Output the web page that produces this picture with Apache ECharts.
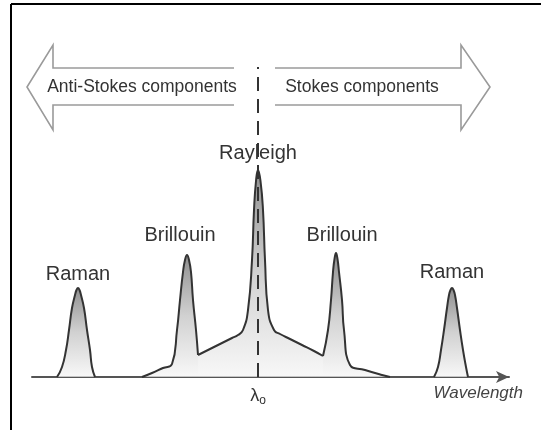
<!DOCTYPE html>
<html>
<head>
<meta charset="utf-8">
<script src="https://cdn.jsdelivr.net/npm/echarts@6/dist/echarts.min.js"></script>
<style>
  html, body { margin: 0; padding: 0; background: #fff; }
  #scatterChart { width: 541px; height: 430px; }
</style>
</head>
<body>
<div id="scatterChart"></div>
<script>
// segments of the spectrum, [wavelength offset, intensity]
var ramanAntiStokes = [[25,0],[30,10],[34,27],[37,47],[40,69],[43,82],[44.5,87],[46,89],[47.5,87],[49,82],[52,69],[55,47],[58,27],[60,10],[63,0]];
var brillouinAntiStokes = [[110,0],[120,4],[131,9],[140,13],[145,47],[148,77],[151,105],[153,117],[155,122],[157,117],[159,105],[161,77],[164,47],[166,22]];
var rayleigh = [[166,22],[178,28],[190,34],[200,39],[206,42],[211,47],[216,67],[220,117],[222,167],[224,196],[226,207],[228.5,196],[231,167],[233,117],[236,67],[242,47],[248,43],[258,38],[270,32],[282,26],[291,21]];
var brillouinStokes = [[291,21],[296,47],[299,77],[301,105],[302.5,118],[304,124],[305.5,118],[307,105],[310,77],[312,47],[318,12],[333,7],[350,2],[358,0]];
var ramanStokes = [[402,0],[406,10],[409,27],[412,47],[415,69],[417,82],[418.5,87],[420,89],[421.5,87],[423,82],[425,69],[428,47],[431,27],[434,10],[436,0]];

var peakNames = ['Raman', 'Brillouin', 'Rayleigh', 'Brillouin', 'Raman'];
var lambda0 = 226;
var xMax = 477;
var yMax = 310;

var chart = echarts.init(document.getElementById('scatterChart'));
var font = '"Liberation Sans", Arial, sans-serif';

// label tweaks per peak: [distance, x offset]
var labelPos = [[4, 0], [10, -7], [7, 0], [8, 6], [6, 0]];

function makeSeries(points, idx) {
    var peak = 0;
    points.forEach(function (p, i) { if (p[1] > points[peak][1]) peak = i; });
    var data = points.map(function (p, i) {
        if (i !== peak) return { value: p };
        return {
            value: p,
            label: {
                show: true,
                formatter: peakNames[idx],
                position: 'top',
                distance: labelPos[idx][0],
                offset: [labelPos[idx][1], 0],
                fontFamily: font,
                fontSize: 20,
                color: '#333',
                backgroundColor: idx === 2 ? '#fff' : 'transparent',
                padding: [0, 2]
            }
        };
    });
    return {
        type: 'line',
        data: data,
        smooth: 0.5,
        symbol: 'circle',
        symbolSize: 0,
        showSymbol: true,
        lineStyle: { color: '#333', width: 2 },
        itemStyle: { color: 'transparent' },
        areaStyle: {
            color: new echarts.graphic.LinearGradient(0, 0, 0, 1, [
                { offset: 0, color: '#5e5e5e' },
                { offset: 0.5, color: '#bdbdbd' },
                { offset: 1, color: '#f4f4f4' }
            ])
        },
        markLine: idx === 2 ? {
            silent: true,
            symbol: 'none',
            label: { show: false },
            lineStyle: { color: '#333', width: 2, type: [14, 8] },
            data: [{ xAxis: lambda0 }]
        } : undefined,
        z: 2
    };
}

var option = {
    animation: false,
    grid: { left: 32, right: 32, top: 67, bottom: 53 },
    xAxis: {
        type: 'value',
        min: 0,
        max: xMax,
        name: 'Wavelength',
        nameLocation: 'end',
        nameGap: 14,
        nameTextStyle: {
            fontFamily: font,
            fontStyle: 'italic',
            fontSize: 17,
            color: '#444',
            align: 'right',
            verticalAlign: 'top',
            padding: [8, 0, 0, 0]
        },
        splitLine: { show: false },
        axisTick: { show: false },
        axisLine: {
            show: true,
            symbol: ['none', 'arrow'],
            symbolSize: [9, 13],
            lineStyle: { color: '#555', width: 2 }
        },
        axisLabel: {
            customValues: [lambda0],
            margin: 9,
            formatter: function () { return '{a|λ}{b|o}'; },
            rich: {
                a: { fontFamily: font, fontSize: 18, color: '#333' },
                b: { fontFamily: font, fontSize: 12, color: '#333', padding: [9, 0, 0, 0] }
            }
        }
    },
    yAxis: { type: 'value', min: 0, max: yMax, show: false },
    series: [ramanAntiStokes, brillouinAntiStokes, rayleigh, brillouinStokes, ramanStokes].map(makeSeries),
    graphic: [
        // frame
        { type: 'line', shape: { x1: 11, y1: 4, x2: 541, y2: 4 }, style: { stroke: '#000', lineWidth: 2 } },
        { type: 'line', shape: { x1: 11, y1: 4, x2: 11, y2: 430 }, style: { stroke: '#000', lineWidth: 2 } },
        // anti-stokes arrow
        { type: 'polyline', shape: { points: [[234,68],[53,68],[53,45],[27,87],[53,130],[53,105],[234,105]] },
          style: { stroke: '#9a9a9a', lineWidth: 1.6, fill: null } },
        { type: 'text', x: 142, y: 87, style: { text: 'Anti-Stokes components', font: '17.5px ' + font, fill: '#333', align: 'center', verticalAlign: 'middle' } },
        // stokes arrow
        { type: 'polyline', shape: { points: [[275,68],[461,68],[461,45],[490,87],[461,130],[461,105],[275,105]] },
          style: { stroke: '#9a9a9a', lineWidth: 1.6, fill: null } },
        { type: 'text', x: 362, y: 87, style: { text: 'Stokes components', font: '17.5px ' + font, fill: '#333', align: 'center', verticalAlign: 'middle' } }
    ]
};

chart.setOption(option);
</script>
</body>
</html>
